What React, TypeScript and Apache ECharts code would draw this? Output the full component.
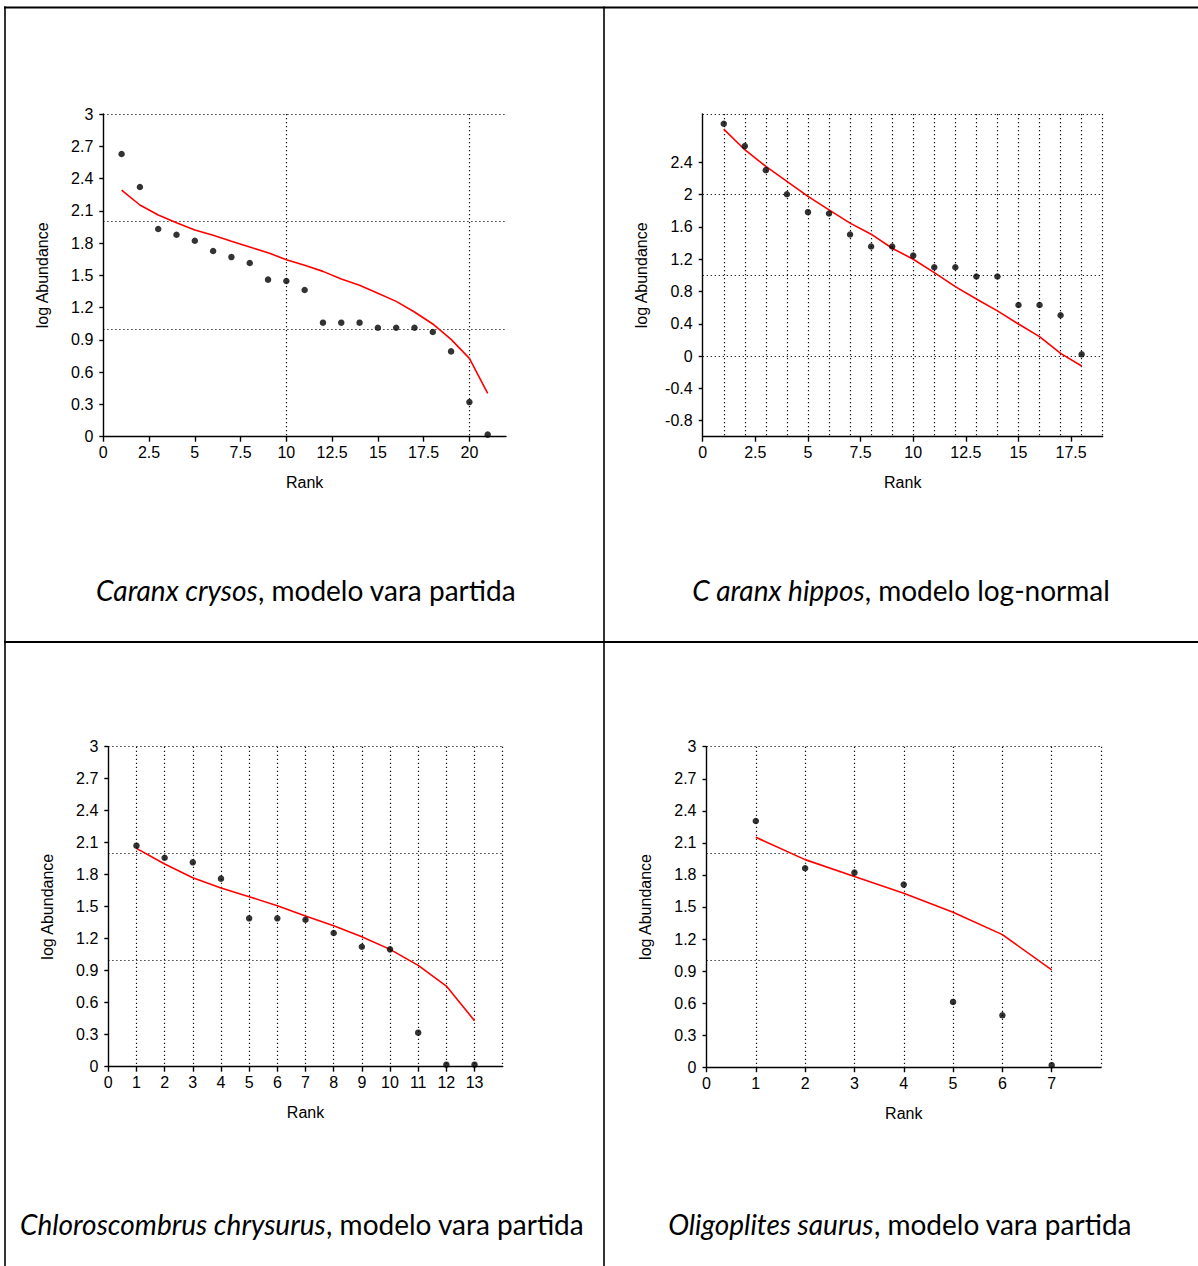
import React, { useEffect, useRef } from "react";
import * as echarts from "echarts";

// ---------- Panel 1: Caranx crysos (vara partida) ----------
const ranks1 = [1, 2, 3, 4, 5, 6, 7, 8, 9, 10, 11, 12, 13, 14, 15, 16, 17, 18, 19, 20, 21];
const observed1 = [2.628, 2.321, 1.931, 1.878, 1.822, 1.726, 1.67, 1.615, 1.46, 1.447, 1.364, 1.06, 1.06, 1.06, 1.013, 1.013, 1.013, 0.973, 0.793, 0.322, 0.019];
const model1 = [2.293, 2.154, 2.061, 1.99, 1.921, 1.872, 1.816, 1.763, 1.711, 1.646, 1.593, 1.537, 1.466, 1.407, 1.333, 1.258, 1.159, 1.048, 0.905, 0.728, 0.403];
const xTicks1 = [0, 2.5, 5, 7.5, 10, 12.5, 15, 17.5, 20];
const yTicks1 = [0, 0.3, 0.6, 0.9, 1.2, 1.5, 1.8, 2.1, 2.4, 2.7, 3];

// ---------- Panel 2: Caranx hippos (log-normal) ----------
const ranks2 = [1, 2, 3, 4, 5, 6, 7, 8, 9, 10, 11, 12, 13, 14, 15, 16, 17, 18];
const observed2 = [2.879, 2.602, 2.304, 2.006, 1.783, 1.766, 1.506, 1.357, 1.357, 1.245, 1.1, 1.1, 0.985, 0.985, 0.633, 0.633, 0.505, 0.021];
const model2 = [2.813, 2.557, 2.35, 2.164, 1.978, 1.812, 1.647, 1.51, 1.336, 1.2, 1.034, 0.86, 0.707, 0.559, 0.397, 0.24, 0.033, -0.124];
const xTicks2 = [0, 2.5, 5, 7.5, 10, 12.5, 15, 17.5];
const yTicks2 = [-0.8, -0.4, 0, 0.4, 0.8, 1.2, 1.6, 2, 2.4];

// ---------- Panel 3: Chloroscombrus chrysurus (vara partida) ----------
const ranks3 = [1, 2, 3, 4, 5, 6, 7, 8, 9, 10, 11, 12, 13];
const observed3 = [2.072, 1.959, 1.916, 1.763, 1.391, 1.391, 1.378, 1.253, 1.125, 1.1, 0.319, 0.019, 0.019];
const model3 = [2.047, 1.9, 1.772, 1.675, 1.594, 1.509, 1.412, 1.322, 1.219, 1.1, 0.95, 0.756, 0.431];
const xTicks3 = [0, 1, 2, 3, 4, 5, 6, 7, 8, 9, 10, 11, 12, 13];
const yTicks3 = [0, 0.3, 0.6, 0.9, 1.2, 1.5, 1.8, 2.1, 2.4, 2.7, 3];

// ---------- Panel 4: Oligoplites saurus (vara partida) ----------
const ranks4 = [1, 2, 3, 4, 5, 6, 7];
const observed4 = [2.304, 1.862, 1.821, 1.709, 0.611, 0.486, 0.019];
const model4 = [2.152, 1.943, 1.784, 1.628, 1.45, 1.241, 0.911];
const xTicks4 = [0, 1, 2, 3, 4, 5, 6, 7];
const yTicks4 = [0, 0.3, 0.6, 0.9, 1.2, 1.5, 1.8, 2.1, 2.4, 2.7, 3];

// ---------- Captions ----------
const captionItalic = ["Caranx crysos", "C aranx hippos", "Chloroscombrus chrysurus", "Oligoplites saurus"];
const captionNormal = [", modelo vara partida", ", modelo log-normal", ", modelo vara partida", ", modelo vara partida"];

const AXIS_FONT = "'Liberation Sans', Arial, sans-serif";
const CAPTION_FONT = "Lato, 'Open Sans', sans-serif";

type Layout = {
  left: number; top: number; width: number; height: number;
  xMin: number; xMax: number; xGrid: number; showMaxX: boolean;
  yMin: number; yMax: number; yGrid: number;
  capX: number; capY: number;
};

const layouts: Layout[] = [
  { left: 103.3, top: 114, width: 402.7, height: 322.7, xMin: 0, xMax: 22, xGrid: 10, showMaxX: false, yMin: 0, yMax: 3, yGrid: 1, capX: 306, capY: 590 },
  { left: 702.7, top: 114, width: 400, height: 322.7, xMin: 0, xMax: 19, xGrid: 1, showMaxX: true, yMin: -1, yMax: 3, yGrid: 1, capX: 901, capY: 590 },
  { left: 108.3, top: 746.7, width: 394.4, height: 320, xMin: 0, xMax: 14, xGrid: 1, showMaxX: true, yMin: 0, yMax: 3, yGrid: 1, capX: 302, capY: 1224 },
  { left: 706.5, top: 746.7, width: 394.5, height: 320.5, xMin: 0, xMax: 8, xGrid: 1, showMaxX: true, yMin: 0, yMax: 3, yGrid: 1, capX: 900, capY: 1224 },
];

const panelData = [
  { ranks: ranks1, obs: observed1, mod: model1, xt: xTicks1, yt: yTicks1 },
  { ranks: ranks2, obs: observed2, mod: model2, xt: xTicks2, yt: yTicks2 },
  { ranks: ranks3, obs: observed3, mod: model3, xt: xTicks3, yt: yTicks3 },
  { ranks: ranks4, obs: observed4, mod: model4, xt: xTicks4, yt: yTicks4 },
];

const dotted = { color: "#111", width: 1.2, type: [1.2, 2.8] as number[] };
const solid = { color: "#000", width: 1.4 };

function buildOption() {
  const grid: any[] = [];
  const xAxis: any[] = [];
  const yAxis: any[] = [];
  const series: any[] = [];
  const graphic: any[] = [];

  layouts.forEach((L, p) => {
    const d = panelData[p];
    grid.push({ left: L.left, top: L.top, width: L.width, height: L.height, containLabel: false });

    // grid / line axis
    xAxis.push({
      type: "value", gridIndex: p, position: "bottom", min: L.xMin, max: L.xMax, interval: L.xGrid,
      axisLine: { show: true, onZero: false, lineStyle: solid },
      axisTick: { show: false }, axisLabel: { show: false },
      splitLine: { show: true, showMinLine: false, showMaxLine: L.showMaxX, lineStyle: dotted },
    });
    // label axis
    xAxis.push({
      type: "value", gridIndex: p, position: "bottom", min: L.xMin, max: L.xMax,
      axisLine: { show: false, onZero: false },
      axisTick: { show: true, length: 5, customValues: d.xt, lineStyle: solid },
      axisLabel: {
        show: true, customValues: d.xt, margin: 8, fontSize: 16, color: "#000", fontFamily: AXIS_FONT,
        formatter: (v: number) => String(v),
      },
      splitLine: { show: false },
      name: "Rank", nameLocation: "middle", nameGap: 38,
      nameTextStyle: { fontSize: 16, color: "#000", fontFamily: AXIS_FONT },
    });

    yAxis.push({
      type: "value", gridIndex: p, position: "left", min: L.yMin, max: L.yMax, interval: L.yGrid,
      axisLine: { show: true, onZero: false, lineStyle: solid },
      axisTick: { show: false }, axisLabel: { show: false },
      splitLine: { show: true, showMinLine: false, showMaxLine: true, lineStyle: dotted },
    });
    yAxis.push({
      type: "value", gridIndex: p, position: "left", min: L.yMin, max: L.yMax,
      axisLine: { show: false, onZero: false },
      axisTick: { show: true, length: 4, customValues: d.yt, lineStyle: solid },
      axisLabel: {
        show: true, customValues: d.yt, margin: 10, fontSize: 16, color: "#000", fontFamily: AXIS_FONT,
        formatter: (v: number) => String(v),
      },
      splitLine: { show: false },
      name: "log Abundance", nameLocation: "middle", nameRotate: 90, nameGap: 53,
      nameTextStyle: { fontSize: 16, color: "#000", fontFamily: AXIS_FONT },
    });

    series.push({
      type: "line", xAxisIndex: 2 * p, yAxisIndex: 2 * p,
      data: d.ranks.map((r, i) => [r, d.mod[i]]),
      showSymbol: false, symbol: "none",
      lineStyle: { color: "#ff0000", width: 1.6 },
      z: 3,
    });
    series.push({
      type: "scatter", xAxisIndex: 2 * p, yAxisIndex: 2 * p,
      data: d.ranks.map((r, i) => [r, d.obs[i]]),
      symbol: "circle", symbolSize: 6.5,
      itemStyle: { color: "#000" },
      z: 4,
    });

    graphic.push({
      type: "text", x: L.capX, y: L.capY,
      style: {
        text: `{i|${captionItalic[p]}}{n|${captionNormal[p]}}`,
        rich: {
          i: { fontStyle: "italic", fontFamily: CAPTION_FONT, fontSize: 28, fill: "#000" },
          n: { fontFamily: CAPTION_FONT, fontSize: 28, fill: "#000" },
        },
        textAlign: "center", textVerticalAlign: "middle",
      },
    });
  });

  // table borders
  const border = (x1: number, y1: number, x2: number, y2: number, w: number) => ({
    type: "line", shape: { x1, y1, x2, y2 }, style: { stroke: "#000", lineWidth: w }, z: 10,
  });
  graphic.push(border(4, 7.5, 1198, 7.5, 2));
  graphic.push(border(4, 642, 1198, 642, 2));
  graphic.push(border(5, 6.5, 5, 1266, 1.6));
  graphic.push(border(604, 6.5, 604, 1266, 1.6));

  return {
    animation: false,
    backgroundColor: "#fff",
    textStyle: { fontFamily: AXIS_FONT },
    grid, xAxis, yAxis, series, graphic,
  };
}

export default function App() {
  const ref = useRef<HTMLDivElement>(null);
  useEffect(() => {
    if (!ref.current) return;
    const chart = echarts.init(ref.current, undefined, { renderer: "svg" });
    chart.setOption(buildOption() as any);
    return () => chart.dispose();
  }, []);
  return (
    <div
      ref={ref}
      style={{ position: "absolute", left: 0, top: 0, width: 1198, height: 1266, background: "#fff" }}
    />
  );
}
